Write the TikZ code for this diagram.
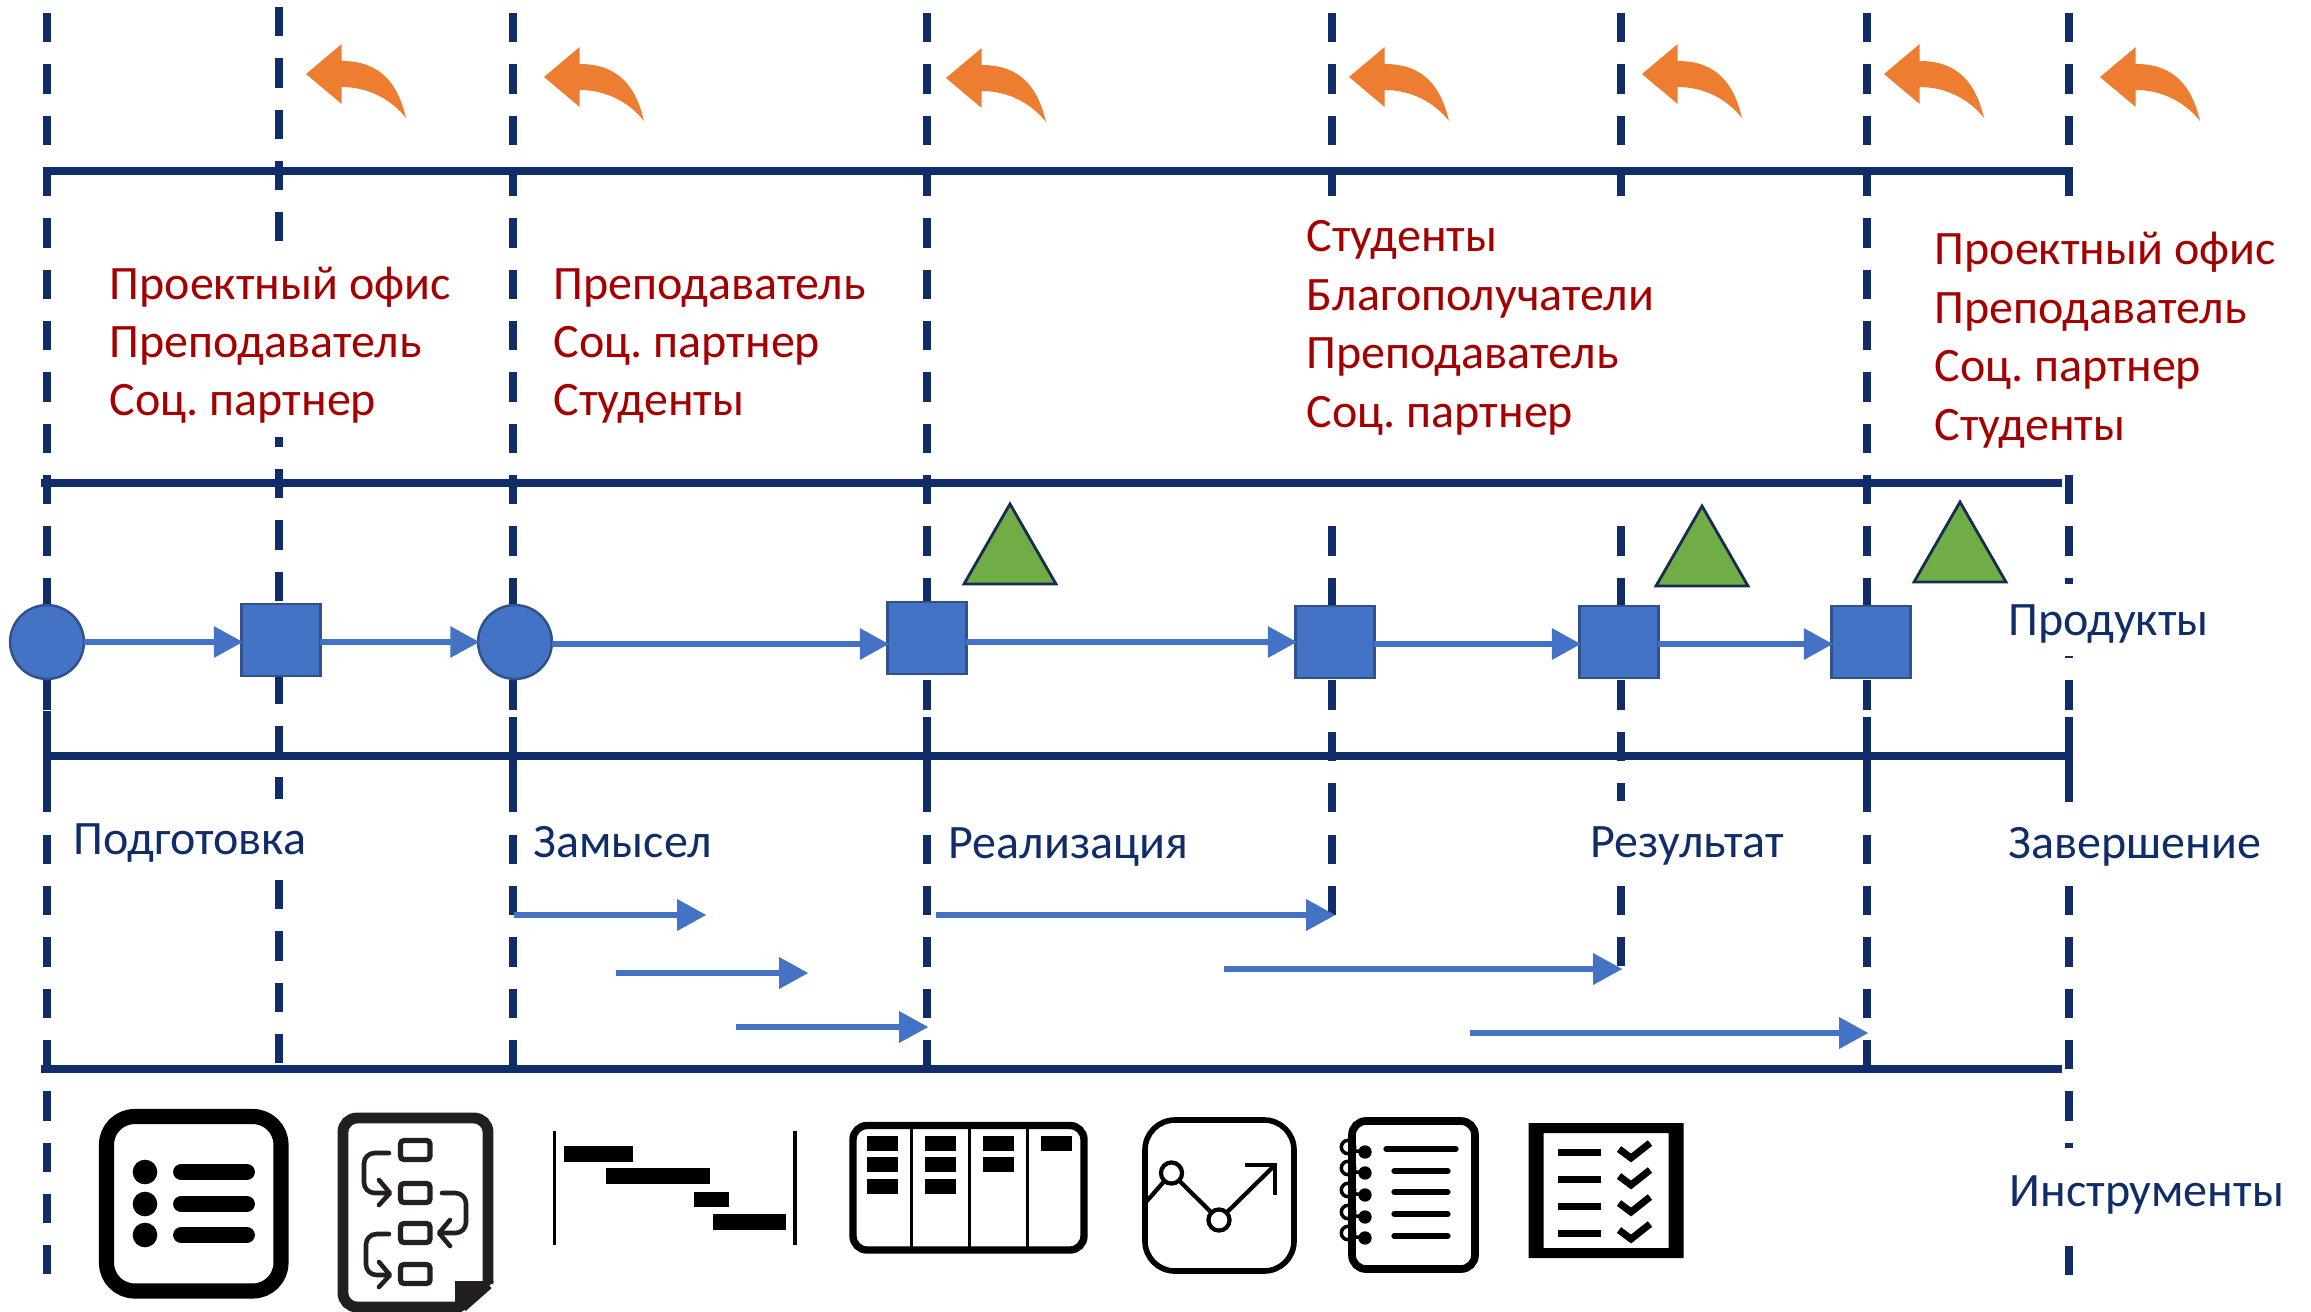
\documentclass[tikz,border=0pt]{standalone}
\usepackage{fontspec}
\setmainfont{Carlito}
\frenchspacing
\usetikzlibrary{positioning,calc,arrows.meta}
\definecolor{navyln}{HTML}{102D69}
\definecolor{roletxt}{HTML}{A50000}
\definecolor{flowblue}{HTML}{4472C4}
\definecolor{flowedge}{HTML}{2F528F}
\definecolor{backarr}{HTML}{ED7D31}
\definecolor{milegreen}{HTML}{70AD47}
\definecolor{mileedge}{HTML}{172C51}
\definecolor{docgray}{HTML}{231F20}
\tikzset{dashln/.style={draw=navyln, line width=2.1pt, dash pattern=on 8.34pt off 6.26pt}}
\tikzset{solidln/.style={draw=navyln, line width=2.1pt}}
\tikzset{hbar/.style={draw=navyln, line width=2.3pt}}
\tikzset{flowarr/.style={draw=flowblue, line width=1.6pt, -{Triangle[length=8.3pt,width=8.6pt]}, shorten <=0pt, shorten >=-0.4pt}}
\tikzset{stepbox/.style={draw=flowedge, fill=flowblue, line width=0.7pt, inner sep=0pt, outer sep=0pt, minimum width=22.4pt, minimum height=20.6pt}}
\tikzset{stepcirc/.style={circle, draw=flowedge, fill=flowblue, line width=0.7pt, inner sep=0pt, outer sep=0pt, minimum size=21pt}}
\tikzset{rolelab/.style={anchor=base west, inner sep=0pt, text=roletxt, font=\fontsize{13.65}{16}\selectfont}}
\tikzset{phaselab/.style={anchor=base west, inner sep=0pt, text=navyln, font=\fontsize{13.65}{16}\selectfont}}
\tikzset{icoln/.style={draw=black, line cap=round, line join=round}}

\begin{document}
\begin{tikzpicture}[x=0.01cm, y=-0.01cm]
	\useasboundingbox (0,0) rectangle (2311,1311);

	% phase borders
	\foreach \px/\ya/\yb in {47/13/1274, 279/7/1063, 513/13/1069, 927/13/1069, 1332/13/915, 1621/13/966, 1867/13/1069, 2069/13/1275}
		\draw[dashln] (\px,\ya) -- (\px,\yb);
	% the text boxes lie over the borders
	\fill[white] (60,241) rectangle (500,437);
	\fill[white] (1290,197) rectangle (1700,526);
	\fill[white] (1930,197) rectangle (2300,475);
	\fill[white] (2000,584) rectangle (2240,656);
	\fill[white] (70,799) rectangle (300,879);
	\fill[white] (1590,801) rectangle (1800,885);
	\fill[white] (2000,802) rectangle (2290,885);
	\fill[white] (2005,1148) rectangle (2290,1246);

	\foreach \px/\ya/\yb in {47/711/785, 513/717/792, 927/717/792, 1867/717/792, 2069/717/802}
		\draw[solidln] (\px,\ya) -- (\px,\yb);

	\draw[hbar] (43,171) -- (2072,171);
	\draw[hbar] (41,483) -- (2062,483);
	\draw[hbar] (47,756) -- (2069,756);
	\draw[hbar] (41,1069) -- (2062,1069);

	% return arrows
	\foreach \px/\py in {306/74, 544/77, 946/78, 1349/77, 1642/74, 1884/74, 2100/77}
		\fill[backarr, shift={(\px,\py)}] (0,0) -- (35.7,-30) -- (35.7,-13)
			.. controls (75,-13) and (92,10) .. (100,44)
			.. controls (85,25) and (62,13) .. (35.7,13) -- (35.7,30) -- cycle;

	% milestones
	\foreach \px/\py in {1010/584, 1702/586, 1960/582}
		\draw[draw=mileedge, fill=milegreen, line width=0.8pt, shift={(\px,\py)}] (-46,0) -- (0,-80) -- (46,0) -- cycle;

	\node[stepcirc] (c1) at (47,642) {};
	\node[stepbox] (s1) at (281,640) {};
	\node[stepcirc] (c2) at (515,642) {};
	\node[stepbox] (s2) at (927,638) {};
	\node[stepbox] (s3) at (1335,642) {};
	\node[stepbox] (s4) at (1619,642) {};
	\node[stepbox] (s5) at (1871,642) {};

	\draw[flowarr] (c1.east) -- (s1.west |- c1.east);
	\draw[flowarr] ([yshift=-0.02cm]s1.east) -- (c2.west);
	\draw[flowarr] ([yshift=-0.02cm]c2.east) -- ([yshift=-0.02cm]s2.west |- c2.east);
	\draw[flowarr] (s2.east |- s3.west) -- (s3.west);
	\draw[flowarr] ([yshift=-0.02cm]s3.east) -- ([yshift=-0.02cm]s4.west);
	\draw[flowarr] ([yshift=-0.02cm]s4.east) -- ([yshift=-0.02cm]s5.west);

	% work items under the phases
	\foreach \n/\xa/\xb/\yy in {1/514/705/915, 2/616/807/973, 3/736/927/1027, 4/936/1334/915, 5/1224/1621/969, 6/1470/1867/1033} {
		\coordinate (w\n a) at (\xa,\yy);
		\coordinate (w\n b) at (\xb,\yy);
		\draw[flowarr] (w\n a) -- (w\n b);
	}

	% who takes part
	\foreach \t [count=\i] in {Проектный офис,Преподаватель,Соц. партнер}
		\node[rolelab] (ra\i) at (109,{299.5+58*(\i-1)}) {\t};
	\foreach \t [count=\i] in {Преподаватель,Соц. партнер,Студенты}
		\node[rolelab] (rb\i) at (553,{299.5+58*(\i-1)}) {\t};
	\foreach \t [count=\i] in {Студенты,Благополучатели,Преподаватель,Соц. партнер}
		\node[rolelab] (rc\i) at (1306,{251.5+58.5*(\i-1)}) {\t};
	\foreach \t [count=\i] in {Проектный офис,Преподаватель,Соц. партнер,Студенты}
		\node[rolelab] (rd\i) at (1934,{264.5+58.5*(\i-1)}) {\t};

	\node[phaselab] (prod) at (2008,635.5) {Продукты};
	\node[phaselab] (pa) at (73,854.5) {Подготовка};
	\node[phaselab] (pb) at (533,857.5) {Замысел};
	\node[phaselab] (pc) at (948,858.5) {Реализация};
	\node[phaselab] (pd) at (1590,857.5) {Результат};
	\node[phaselab] (pe) at (2008,858.5) {Завершение};
	\node[phaselab] (tools) at (2009,1206.5) {Инструменты};

	% list icon
	\draw[icoln, line width=4.3pt, rounded corners=8pt] (106.5,1116.5) rectangle (281,1291);
	\foreach \yy in {1172,1204,1235} {
		\fill (145,\yy) circle (3.5pt);
		\draw[icoln, line width=4.5pt] (181,\yy) -- (247,\yy);
	}

	% process sheet icon
	\draw[draw=docgray, line width=3.1pt, rounded corners=4pt] (462,1307) -- (343,1307) -- (343,1118) -- (488,1118) -- (488,1284);
	\draw[draw=docgray, line width=3.1pt] (488,1284) -- (462,1307);
	\fill[docgray] (455,1281) -- (494,1281) -- (463,1311) -- (455,1311) -- cycle;
	\foreach \yy in {1150,1193,1233,1274}
		\draw[draw=docgray, line width=1.5pt, rounded corners=1pt] (400.5,\yy-9.5) rectangle (430,\yy+9.5);
	\draw[icoln, draw=docgray, line width=1.3pt, rounded corners=3pt] (389,1153) -- (364,1153) -- (364,1193) -- (388,1193);
	\draw[icoln, draw=docgray, line width=1.3pt] (379,1180) -- (390,1193) -- (379,1205);
	\draw[icoln, draw=docgray, line width=1.3pt, rounded corners=3pt] (389,1234) -- (366,1234) -- (366,1275) -- (388,1275);
	\draw[icoln, draw=docgray, line width=1.3pt] (379,1262) -- (390,1275) -- (379,1287);
	\draw[icoln, draw=docgray, line width=1.3pt, rounded corners=3pt] (442,1193) -- (466,1193) -- (466,1233) -- (441,1233);
	\draw[icoln, draw=docgray, line width=1.3pt] (450,1220) -- (439,1233) -- (450,1246);

	% gantt icon
	\draw[draw=black, line width=1pt] (554.5,1131) -- (554.5,1245);
	\draw[draw=black, line width=1pt] (795,1131) -- (795,1245);
	\fill (564,1146) rectangle (633,1162);
	\fill (606,1168) rectangle (709.5,1184);
	\fill (694,1192) rectangle (728.5,1207);
	\fill (713,1214) rectangle (786,1230);

	% board icon
	\draw[draw=black, line width=2.1pt, rounded corners=4pt] (853,1125.5) rectangle (1084,1250);
	\foreach \px in {911.5,969.5,1027.5}
		\draw[draw=black, line width=1pt] (\px,1125.5) -- (\px,1250);
	\foreach \px/\py in {867/1136, 867/1157, 867/1179, 925/1136, 925/1157, 925/1179, 983/1136, 983/1157, 1041/1136}
		\fill (\px,\py) rectangle (\px+31,\py+14.5);

	% chart icon
	\draw[draw=black, line width=1.6pt, rounded corners=8.5pt] (1145,1120) rectangle (1294,1271);
	\draw[draw=black, line width=1.2pt] (1146,1202) -- (1171.5,1173) -- (1219,1220) -- (1275,1165);
	\draw[draw=black, line width=1.2pt] (1244.5,1165) -- (1275,1165) -- (1275,1195);
	\foreach \px/\py in {1171.5/1173, 1219/1220}
		\draw[draw=black, fill=white, line width=1.2pt] (\px,\py) circle (3pt);

	% notebook icon
	\draw[draw=black, line width=2.2pt, rounded corners=4pt] (1352,1121) rectangle (1475,1269);
	\foreach \yy in {1147,1168,1190,1212,1233} {
		\draw[draw=black, line width=1pt] (1348,\yy) circle (1.9pt);
		\draw[draw=black, line width=1pt] (1348,\yy+3) -- (1365,\yy+5);
		\fill (1365,\yy+5) circle (1.9pt);
	}
	\draw[icoln, line width=1.5pt] (1386,1149) -- (1456,1149);
	\foreach \yy in {1171,1192,1214,1236}
		\draw[icoln, line width=1.5pt] (1394,\yy) -- (1448,\yy);

	% checklist icon
	\fill[even odd rule] (1528.6,1123) rectangle (1683.6,1258) (1543.6,1133) rectangle (1668.7,1248);
	\foreach \yy in {1152,1179,1206,1233} {
		\fill (1558,\yy-3.5) rectangle (1601,\yy+3.5);
		\draw[draw=black, line width=2pt] (1619,\yy-3) -- (1631,\yy+6) -- (1650,\yy-9);
	}
\end{tikzpicture}
\end{document}
